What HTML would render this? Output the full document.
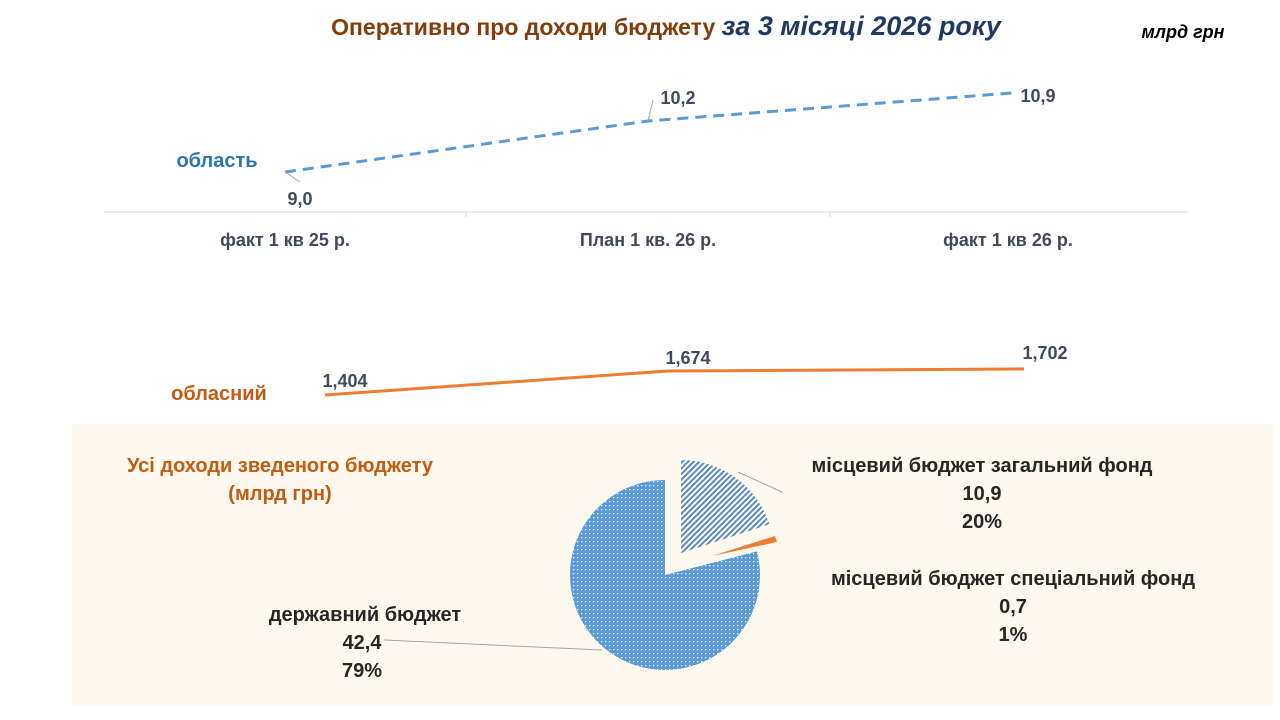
<!DOCTYPE html>
<html><head><meta charset="utf-8"><style>
body{margin:0;width:1280px;height:720px;background:#fff;overflow:hidden;font-family:"Liberation Sans",sans-serif}
</style></head><body>
<svg width="1280" height="720" xmlns="http://www.w3.org/2000/svg" style="position:absolute;left:0;top:0">
<defs>
<pattern id="dots" width="4" height="4" patternUnits="userSpaceOnUse"><rect width="4" height="4" fill="#5b9bd5"/><rect x="1" y="1" width="1.3" height="1.3" fill="#fff" opacity="0.9"/></pattern>
<pattern id="hatch" width="4" height="4" patternUnits="userSpaceOnUse" patternTransform="rotate(45)"><rect width="4" height="4" fill="#fff"/><rect width="2" height="4" fill="#5a8bbf"/></pattern>
</defs>
<text x="666" y="35" text-anchor="middle" font-size="23" font-weight="bold"><tspan fill="#843c0c">Оперативно про доходи бюджету </tspan><tspan fill="#1f3864" font-style="italic" font-size="27">за 3 місяці 2026 року</tspan></text>
<text x="1183" y="38" text-anchor="middle" font-size="18" font-weight="bold" font-style="italic" fill="#000">млрд грн</text>
<line x1="104" y1="212" x2="1188" y2="212" stroke="#d9d9d9" stroke-width="1"/>
<line x1="466" y1="212" x2="466" y2="217" stroke="#d9d9d9"/>
<line x1="830" y1="212" x2="830" y2="217" stroke="#d9d9d9"/>
<polyline points="285,172 648,121 1012,93" fill="none" stroke="#5b9bd5" stroke-width="3" stroke-dasharray="11,7"/>
<line x1="285" y1="172" x2="300" y2="182" stroke="#a6a6a6"/>
<line x1="648" y1="121" x2="653" y2="100" stroke="#a6a6a6"/>
<g font-size="18" font-weight="bold" fill="#404a5e">
<text x="300" y="205" text-anchor="middle">9,0</text>
<text x="678" y="104" text-anchor="middle">10,2</text>
<text x="1038" y="102" text-anchor="middle">10,9</text>
<text x="285" y="246" text-anchor="middle">факт 1 кв 25 р.</text>
<text x="648" y="246" text-anchor="middle">План 1 кв. 26 р.</text>
<text x="1008" y="246" text-anchor="middle">факт 1 кв 26 р.</text>
<text x="345" y="387" text-anchor="middle">1,404</text>
<text x="688" y="364" text-anchor="middle">1,674</text>
<text x="1045" y="359" text-anchor="middle">1,702</text>
</g>
<text x="217" y="167" text-anchor="middle" font-size="20" font-weight="bold" fill="#2e75b6">область</text>
<polyline points="325,395 668,371 1024,369" fill="none" stroke="#ed7d31" stroke-width="3"/>
<text x="219" y="400" text-anchor="middle" font-size="20" font-weight="bold" fill="#c55a11">обласний</text>
<rect x="72" y="424" width="1202" height="281" fill="#fef9ee"/>
<text x="280" y="472" text-anchor="middle" font-size="20" font-weight="bold" fill="#c55a11">Усі доходи зведеного бюджету</text>
<text x="280" y="500" text-anchor="middle" font-size="20" font-weight="bold" fill="#c55a11">(млрд грн)</text>
<path d="M665,575 L757,551.4 A95,95 0 1 1 665,480 Z" fill="url(#dots)"/>
<path d="M681,553 L681,460 A93,93 0 0 1 769.4,524.3 Z" fill="url(#hatch)"/>
<path d="M712,556 L775,536 L777,542 Z" fill="#ed7d31"/>
<line x1="738" y1="472" x2="782" y2="492" stroke="#a6a6a6"/>
<line x1="384" y1="640" x2="602" y2="650" stroke="#a6a6a6"/>
<g font-size="20" font-weight="bold" fill="#262626" text-anchor="middle">
<text x="982" y="472">місцевий бюджет загальний фонд</text>
<text x="982" y="500">10,9</text>
<text x="982" y="528">20%</text>
<text x="1013" y="585">місцевий бюджет спеціальний фонд</text>
<text x="1013" y="613">0,7</text>
<text x="1013" y="641">1%</text>
<text x="365" y="621">державний бюджет</text>
<text x="362" y="649">42,4</text>
<text x="362" y="677">79%</text>
</g>
</svg>
</body></html>
